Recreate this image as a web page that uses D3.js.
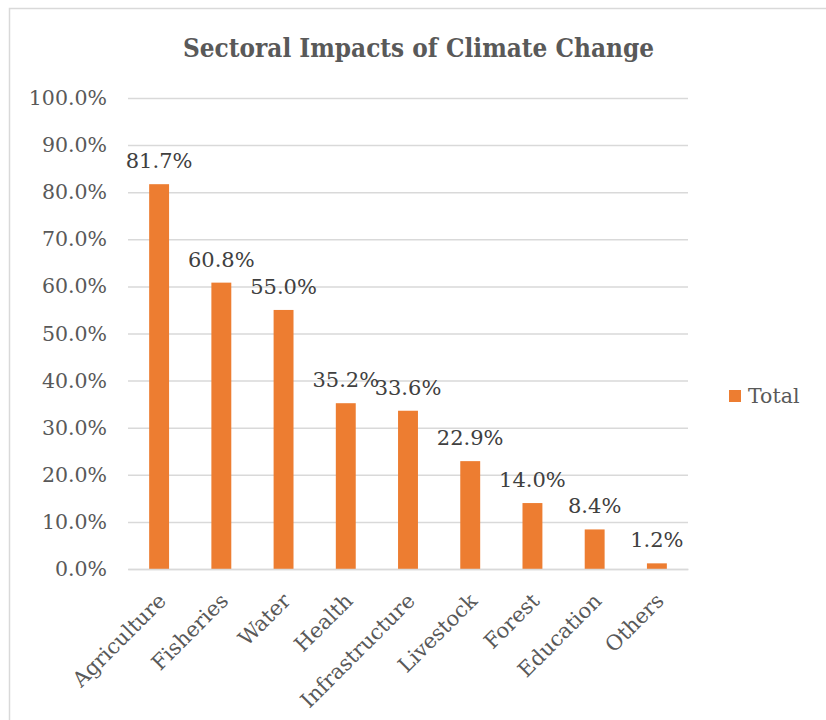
<!DOCTYPE html>
<html>
<head>
<meta charset="utf-8">
<script src="https://cdn.jsdelivr.net/npm/d3@7"></script>
<style>
  html, body { margin: 0; padding: 0; background: #fff; }
  svg { display: block; }
  text { font-family: "DejaVu Serif", "Liberation Serif", serif; }
</style>
</head>
<body>
<svg id="chart" width="826" height="720"></svg>
<script>
// Share of respondents reporting climate impacts by sector
const categories = ["Agriculture", "Fisheries", "Water", "Health", "Infrastructure", "Livestock", "Forest", "Education", "Others"];
const totals = [0.817, 0.608, 0.550, 0.352, 0.336, 0.229, 0.140, 0.084, 0.012];
const yTicks = [0, 0.1, 0.2, 0.3, 0.4, 0.5, 0.6, 0.7, 0.8, 0.9, 1.0];
const seriesName = "Total";
const chartTitle = "Sectoral Impacts of Climate Change";

const svg = d3.select("#chart");
const plot = { left: 128, right: 688, top: 98, bottom: 569 };
const pct = d3.format(".1%");

// chart frame
svg.append("rect")
  .attr("x", 9.5).attr("y", 8.5)
  .attr("width", 840).attr("height", 740)
  .attr("fill", "none").attr("stroke", "#D9D9D9").attr("stroke-width", 1.5);

const x = d3.scaleBand().domain(categories).range([plot.left, plot.right]).paddingInner(0.68).paddingOuter(0.34);
const y = d3.scaleLinear().domain([0, 1]).range([plot.bottom, plot.top]);

// title
svg.append("text")
  .attr("x", 418.5).attr("y", 57)
  .attr("text-anchor", "middle")
  .attr("font-size", 26.5).attr("font-weight", "bold")
  .attr("textLength", 471).attr("lengthAdjust", "spacingAndGlyphs")
  .attr("fill", "#595959")
  .text(chartTitle);

// gridlines + y labels
const yAxis = d3.axisLeft(y).tickValues(yTicks).tickFormat(pct)
  .tickSize(-(plot.right - plot.left)).tickPadding(21);
const gy = svg.append("g").attr("transform", `translate(${plot.left},0)`).call(yAxis);
gy.select(".domain").remove();
gy.selectAll(".tick line").attr("stroke", "#D9D9D9").attr("stroke-width", 1.5);
gy.selectAll(".tick text").attr("font-size", 20.5).attr("fill", "#595959")
  .attr("font-family", "DejaVu Serif, serif");

// bars
svg.append("g").selectAll("rect").data(categories).join("rect")
  .attr("x", d => x(d))
  .attr("width", x.bandwidth())
  .attr("y", (d, i) => y(totals[i]))
  .attr("height", (d, i) => y(0) - y(totals[i]))
  .attr("fill", "#ED7D31");

// value labels
svg.append("g").selectAll("text").data(categories).join("text")
  .attr("x", d => x(d) + x.bandwidth() / 2)
  .attr("y", (d, i) => y(totals[i]) - 16)
  .attr("text-anchor", "middle")
  .attr("font-size", 21).attr("fill", "#404040")
  .text((d, i) => pct(totals[i]));

// category axis
const xAxis = d3.axisBottom(x).tickSize(0).tickPadding(0);
const gx = svg.append("g").attr("transform", `translate(0,${plot.bottom})`).call(xAxis);
gx.select(".domain").attr("stroke", "#D9D9D9").attr("stroke-width", 1.5);
gx.selectAll(".tick text")
  .attr("font-size", 21).attr("fill", "#595959")
  .attr("font-family", "DejaVu Serif, serif")
  .attr("text-anchor", "end")
  .attr("dy", "0.35em")
  .attr("transform", "translate(3,28) rotate(-45)");

// legend
const lg = svg.append("g").attr("transform", "translate(729,390)");
lg.append("rect").attr("width", 12).attr("height", 12).attr("fill", "#ED7D31");
lg.append("text").attr("x", 19).attr("y", 13).attr("font-size", 20.5).attr("fill", "#595959").text(seriesName);
</script>
</body>
</html>
